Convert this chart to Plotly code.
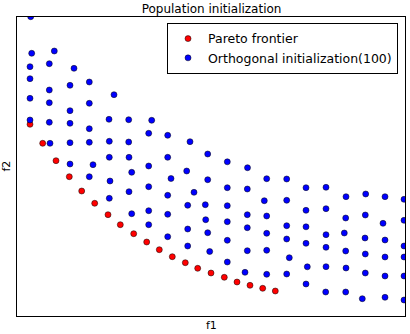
import plotly.graph_objects as go

# values (arbitrary units, no ticks shown)
pareto_f1 = [0.13, 0.257, 0.39, 0.523, 0.647, 0.777, 0.91, 1.033, 1.167, 1.297,
             1.423, 1.553, 1.683, 1.807, 1.94, 2.073, 2.2, 2.33, 2.457, 2.583]
pareto_f2 = [1.917, 1.727, 1.553, 1.393, 1.25, 1.127, 1.013, 0.913, 0.823, 0.74,
             0.663, 0.593, 0.533, 0.477, 0.43, 0.387, 0.34, 0.307, 0.277, 0.25]

ortho_f1 = [0.137, 0.147, 0.13, 0.13, 0.13, 0.13,
            0.373, 0.323, 0.323, 0.323, 0.323, 0.33,
            0.57, 0.53, 0.53, 0.53, 0.53, 0.53,
            0.723, 0.723, 0.723, 0.723, 0.76, 0.723,
            0.97, 0.92, 0.923, 0.923, 0.93, 0.923,
            1.117, 1.117, 1.12, 1.147, 1.12, 1.147,
            1.347, 1.317, 1.317, 1.317, 1.317, 1.317,
            1.507, 1.507, 1.54, 1.507, 1.507, 1.507,
            1.73, 1.697, 1.77, 1.707, 1.707, 1.707,
            1.907, 1.907, 1.883, 1.887, 1.907, 1.927,
            2.103, 2.103, 2.103, 2.103, 2.103, 2.103,
            2.305, 2.303, 2.303, 2.303, 2.303, 2.28,
            2.497, 2.473, 2.497, 2.497, 2.497, 2.497,
            2.697, 2.697, 2.697, 2.697, 2.723, 2.697,
            2.89, 2.89, 2.89, 2.89, 2.903, 2.89,
            3.09, 3.09, 3.09, 3.09, 3.09, 3.087,
            3.29, 3.287, 3.273, 3.287, 3.29, 3.287,
            3.487, 3.483, 3.48, 3.483, 3.483, 3.453,
            3.68, 3.66, 3.68, 3.68, 3.68, 3.68,
            3.87, 3.87, 3.87, 3.87, 3.87, 3.87]
ortho_f2 = [2.993, 2.627, 2.493, 2.373, 2.177, 1.96,
            2.65, 2.523, 2.26, 2.133, 1.937, 1.727,
            2.477, 2.307, 2.053, 1.927, 1.733, 1.52,
            2.34, 2.127, 1.873, 1.737, 1.513, 1.393,
            2.213, 1.967, 1.747, 1.587, 1.35, 1.177,
            1.963, 1.74, 1.587, 1.437, 1.243, 1.023,
            1.957, 1.827, 1.5, 1.293, 1.053, 0.913,
            1.807, 1.587, 1.375, 1.207, 1.017, 0.793,
            1.743, 1.45, 1.237, 1.107, 0.87, 0.7,
            1.62, 1.363, 1.113, 0.963, 0.833, 0.645,
            1.542, 1.283, 1.103, 0.943, 0.757, 0.54,
            1.483, 1.27, 1.013, 0.883, 0.653, 0.437,
            1.373, 1.153, 1.0, 0.827, 0.657, 0.417,
            1.37, 1.157, 0.903, 0.77, 0.583, 0.42,
            1.283, 1.057, 0.892, 0.727, 0.492, 0.32,
            1.287, 1.073, 0.813, 0.687, 0.493, 0.24,
            1.193, 0.98, 0.83, 0.65, 0.48, 0.24,
            1.22, 1.01, 0.78, 0.62, 0.43, 0.173,
            1.193, 0.927, 0.76, 0.59, 0.4, 0.187,
            1.167, 0.957, 0.7, 0.59, 0.4, 0.16]

fig = go.Figure()
fig.add_trace(go.Scatter(x=pareto_f1, y=pareto_f2, mode="markers", name="Pareto frontier",
                         marker=dict(color="#ff0000", size=6, line=dict(color="black", width=0.5))))
fig.add_trace(go.Scatter(x=ortho_f1, y=ortho_f2, mode="markers", name="Orthogonal initialization(100)",
                         marker=dict(color="#0000ff", size=6, line=dict(color="black", width=0.5))))

axis_style = dict(showgrid=False, zeroline=False, showticklabels=False, ticks="",
                  showline=True, linecolor="black", linewidth=1, mirror=True,
                  automargin=False)
fig.update_xaxes(range=[0, 3.88], **axis_style)
fig.update_yaxes(range=[0, 2.99], **axis_style)

# axis labels as annotations so the plot area stays where the reference has it
fig.add_annotation(text="f1", xref="paper", yref="paper", x=0.5, y=0,
                   yanchor="middle", yshift=-9, showarrow=False, font=dict(size=11))
fig.add_annotation(text="f2", xref="paper", yref="paper", x=0, y=0.5,
                   xanchor="center", xshift=-11, textangle=-90, showarrow=False,
                   font=dict(size=11))

fig.update_layout(
    width=410, height=334,
    margin=dict(l=17, r=5, t=17, b=18),
    paper_bgcolor="white", plot_bgcolor="white",
    font=dict(family="DejaVu Sans", size=11, color="black"),
    title=dict(text="Population initialization", x=0.516, xanchor="center",
               y=0.975, yanchor="middle", font=dict(size=12)),
    legend=dict(x=0.982, y=0.98, xanchor="right", yanchor="top",
                bordercolor="black", borderwidth=1, bgcolor="white",
                font=dict(size=12.5), tracegroupgap=0),
    showlegend=True,
)

# drop the page's default body margin so the figure sits at the window corner
fig.write_html("out.html", config={"displayModeBar": False},
               post_script="document.body.style.margin='0';")
